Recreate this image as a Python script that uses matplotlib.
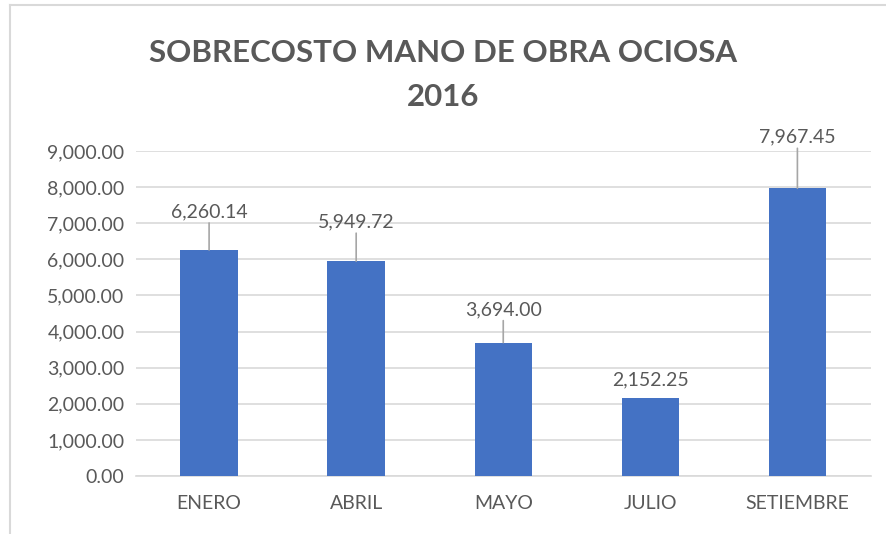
import matplotlib
matplotlib.use('Agg')
import matplotlib.pyplot as plt
from matplotlib.lines import Line2D
from matplotlib.ticker import FuncFormatter

meses = ['ENERO', 'ABRIL', 'MAYO', 'JULIO', 'SETIEMBRE']
sobrecosto = [6260.14, 5949.72, 3694.00, 2152.25, 7967.45]
y_ticks = [0, 1000, 2000, 3000, 4000, 5000, 6000, 7000, 8000, 9000]

# distancia (px) de la etiqueta sobre cada barra, como en el original
label_offsets = [38, 39, 33, 18, 51]

plt.rcParams['font.family'] = ['Lato', 'DejaVu Sans']
texto = '#595959'
grid = '#D9D9D9'
azul = '#4472C4'

fig = plt.figure(figsize=(8.86, 5.34), dpi=100)
ax = fig.add_axes([0.153, 0.1086, 0.830, 0.6086])

x = range(len(meses))
ax.bar(x, sobrecosto, width=0.39, color=azul, zorder=3)
ax.set_xlim(-0.5, len(meses) - 0.5)
ax.set_ylim(0, 9000)
ax.set_yticks(y_ticks)
ax.yaxis.set_major_formatter(FuncFormatter(lambda v, p: f'{v:,.2f}'))
ax.set_xticks(list(x))
ax.set_xticklabels(meses)
ax.tick_params(axis='both', length=0, labelsize=14, labelcolor=texto)
ax.tick_params(axis='x', pad=14)
ax.tick_params(axis='y', pad=8)
ax.grid(axis='y', color=grid, linewidth=1.2, zorder=0)
for s in ['top', 'right', 'left']:
    ax.spines[s].set_visible(False)
ax.spines['bottom'].set_color(grid)
ax.spines['bottom'].set_linewidth(1.2)

px = 72 / fig.dpi
for i, v in enumerate(sobrecosto):
    off = label_offsets[i]
    ax.annotate(f'{v:,.2f}', (i, v), xytext=(0, off * px), textcoords='offset points',
                ha='center', va='center', fontsize=14, color=texto, zorder=4)
    if off > 22:
        ax.annotate('', (i, v), xytext=(0, (off - 11) * px), textcoords='offset points',
                    arrowprops=dict(arrowstyle='-', color='#A6A6A6', lw=1.2,
                                    shrinkA=0, shrinkB=0), zorder=4)

fig.text(0.5, 1 - 53 / 534, 'SOBRECOSTO MANO DE OBRA OCIOSA', ha='center', va='center',
         fontsize=22.5, fontweight='bold', color=texto)
fig.text(0.5, 1 - 97 / 534, '2016', ha='center', va='center',
         fontsize=22.5, fontweight='bold', color=texto)

# borde del área del gráfico
fig.add_artist(Line2D([10 / 886, 10 / 886], [0, 1 - 5 / 534], color=grid, lw=1.5))
fig.add_artist(Line2D([10 / 886, 1], [1 - 5 / 534, 1 - 5 / 534], color=grid, lw=1.5))

fig.savefig('out.png', dpi=100)
